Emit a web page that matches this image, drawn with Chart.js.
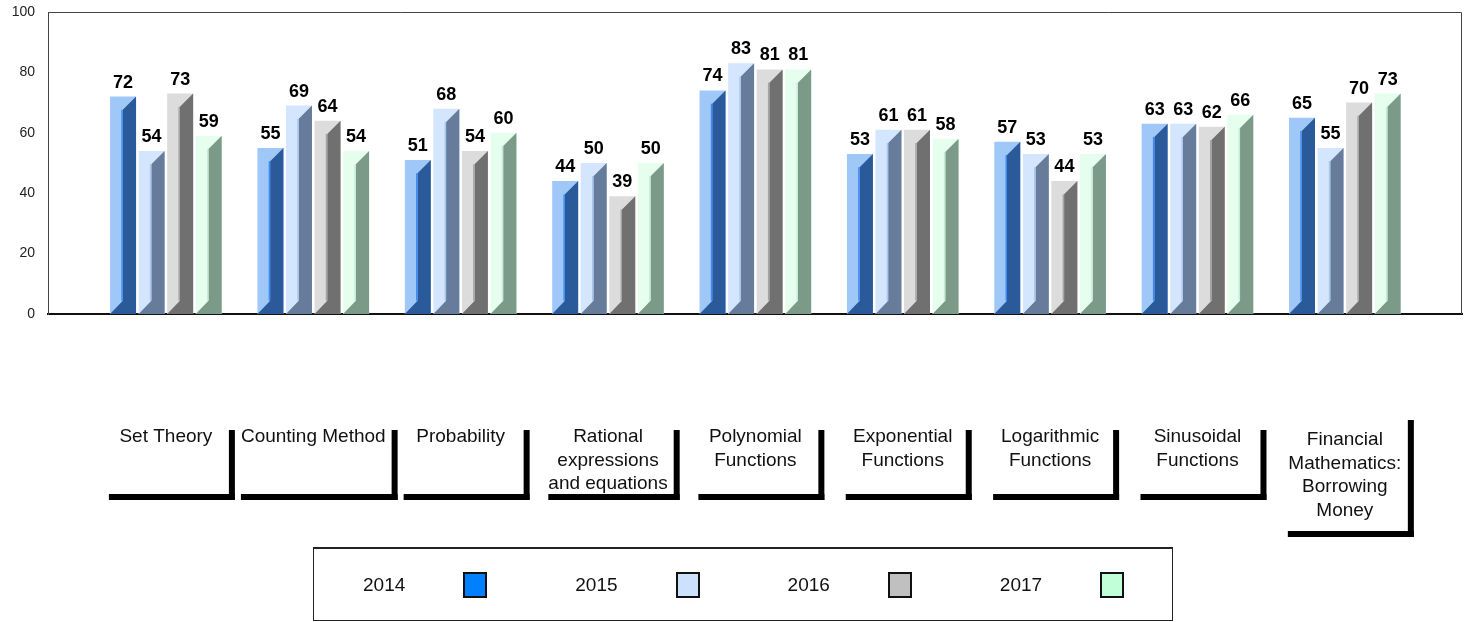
<!DOCTYPE html>
<html>
<head>
<meta charset="utf-8">
<script src="https://cdn.jsdelivr.net/npm/chart.js@4.4.1/dist/chart.umd.min.js"></script>
<style>
  body { margin: 0; background: #fff; font-family: "Liberation Sans", Arial, sans-serif; }
  #wrap { position: relative; width: 1468px; height: 622px; }
  #legend {
    position: absolute; left: 313px; top: 547px; width: 860px; height: 74px;
    box-sizing: border-box; border: 1px solid #222; border-top-width: 2px;
    display: flex; align-items: center; padding-left: 49px;
  }
  #legend .item { display: flex; align-items: center; margin-right: 88px; font-size: 19px; color: #111; }
  #legend .sq { width: 24px; height: 26px; border: 2px solid #111; margin-left: 58px; box-sizing: border-box; }
</style>
</head>
<body>
<div id="wrap">
  <canvas id="chart" width="1468" height="622"></canvas>
  <div id="legend"></div>
</div>
<script>
// Categorias (linhas do rótulo)
var categories = [
  ['Set Theory'],
  ['Counting Method'],
  ['Probability'],
  ['Rational', 'expressions', 'and equations'],
  ['Polynomial', 'Functions'],
  ['Exponential', 'Functions'],
  ['Logarithmic', 'Functions'],
  ['Sinusoidal', 'Functions'],
  ['Financial', 'Mathematics:', 'Borrowing', 'Money']
]

var years = ['2014', '2015', '2016', '2017']

var v2014 = [72, 55, 51, 44, 74, 53, 57, 63, 65]
var v2015 = [54, 69, 68, 50, 83, 61, 53, 63, 55]
var v2016 = [73, 64, 54, 39, 81, 61, 44, 62, 70]
var v2017 = [59, 54, 60, 50, 81, 58, 53, 66, 73]

var yTicks = [0, 20, 40, 60, 80, 100]

var lightColors  = ['#9fc8f9', '#d4e6fe', '#dcdcdc', '#e6feee']
var darkColors   = ['#2a5a9a', '#667c9a', '#707070', '#7c9a88']
var stripeColors = ['#3d8bf2', '#a8c6ee', '#a4a4a4', '#c6ecd6']
var legendColors = ['#0080ff', '#cce0ff', '#c0c0c0', '#c0ffd8']

var FONT = '"Liberation Sans", Arial, sans-serif'

// Barras com bisel
var bevelPlugin = {
  id: 'bevel',
  afterDatasetsDraw(chart) {
    var ctx = chart.ctx
    chart.data.datasets.forEach((ds, di) => {
      chart.getDatasetMeta(di).data.forEach((bar, i) => {
        var p = bar.getProps(['x', 'y', 'base', 'width'], true)
        var left = p.x - p.width / 2
        var right = p.x + p.width / 2
        var mid = left + p.width * 0.49
        var d = right - mid
        ctx.save()
        ctx.fillStyle = darkColors[di]
        ctx.beginPath()
        ctx.moveTo(mid, p.y + d)
        ctx.lineTo(right, p.y)
        ctx.lineTo(right, p.base)
        ctx.lineTo(left, p.base)
        ctx.lineTo(mid, p.base - d)
        ctx.closePath()
        ctx.fill()
        ctx.fillStyle = stripeColors[di]
        ctx.fillRect(mid - 1.5, p.y + d, 1.5, p.base - p.y - 2 * d)
        ctx.fillStyle = '#000'
        ctx.font = 'bold 18px ' + FONT
        ctx.textAlign = 'center'
        ctx.textBaseline = 'bottom'
        ctx.fillText(ds.data[i].y, p.x, p.y - 5)
        ctx.restore()
      })
    })
  }
}

// Moldura e rótulos das categorias
var framePlugin = {
  id: 'frame',
  beforeDatasetsDraw(chart) {
    var a = chart.chartArea, ctx = chart.ctx
    ctx.save()
    ctx.strokeStyle = '#444'
    ctx.lineWidth = 1
    ctx.beginPath()
    ctx.moveTo(a.left + 0.5, a.bottom)
    ctx.lineTo(a.left + 0.5, a.top + 0.5)
    ctx.lineTo(a.right - 0.5, a.top + 0.5)
    ctx.lineTo(a.right - 0.5, a.bottom)
    ctx.stroke()
    ctx.restore()
  },
  afterDraw(chart) {
    var a = chart.chartArea, ctx = chart.ctx
    var xs = chart.scales.x
    ctx.save()
    ctx.font = '19px ' + FONT
    ctx.textAlign = 'center'
    ctx.textBaseline = 'middle'
    categories.forEach((lines, i) => {
      var cx = xs.getPixelForValue(i)
      var n = lines.length
      var tw = Math.max(...lines.map((t) => ctx.measureText(t).width))
      var w = Math.max(126, tw + 12)
      var h = n > 3 ? 117 : 70
      var top = a.bottom + (n > 3 ? 100 : 110)
      var left = cx - w / 2
      ctx.fillStyle = '#000'
      ctx.fillRect(left + w, top + 6, 6, h)
      ctx.fillRect(left + 6, top + h, w, 6)
      ctx.fillStyle = '#111'
      var y0 = n > 3 ? top + h / 2 - (n - 1) * 23.5 / 2 + 3 : top + 13
      lines.forEach((t, k) => ctx.fillText(t, cx, y0 + k * 23.5))
    })
    ctx.restore()
  }
}

function series(vals) {
  return vals.map((v, i) => ({ x: i, y: v }))
}

var chart = new Chart(document.getElementById('chart'), {
  type: 'bar',
  data: {
    datasets: years.map((y, i) => ({
      label: y,
      data: series([v2014, v2015, v2016, v2017][i]),
      backgroundColor: lightColors[i],
      borderWidth: 0,
      categoryPercentage: 0.775,
      barPercentage: 0.91
    }))
  },
  options: {
    responsive: false,
    animation: false,
    layout: { padding: { top: 12, right: 6, bottom: 308, left: 0 } },
    plugins: { legend: { display: false }, tooltip: { enabled: false } },
    scales: {
      x: {
        type: 'linear',
        min: -0.8,
        max: 8.795,
        offset: false,
        afterBuildTicks(s) { s.ticks = categories.map((c, i) => ({ value: i })) },
        ticks: { display: false },
        grid: { display: false, drawTicks: false },
        border: { color: '#111', width: 2 },
        afterFit(s) { s.height = 0 }
      },
      y: {
        min: 0,
        max: 100,
        afterBuildTicks(s) { s.ticks = yTicks.map((v) => ({ value: v })) },
        ticks: { padding: 13, color: '#222', font: { size: 14, family: FONT } },
        grid: { display: false, drawTicks: false },
        border: { color: '#444', width: 1 },
        afterFit(s) {
          s.width = 48
          s.paddingTop = 0
          s.paddingBottom = 0
        }
      }
    }
  },
  plugins: [framePlugin, bevelPlugin]
})

// Legenda
var legend = document.getElementById('legend')
years.forEach((y, i) => {
  var item = document.createElement('div')
  item.className = 'item'
  item.innerHTML = '<span>' + y + '</span><span class="sq" style="background:' + legendColors[i] + '"></span>'
  legend.appendChild(item)
})
</script>
</body>
</html>
